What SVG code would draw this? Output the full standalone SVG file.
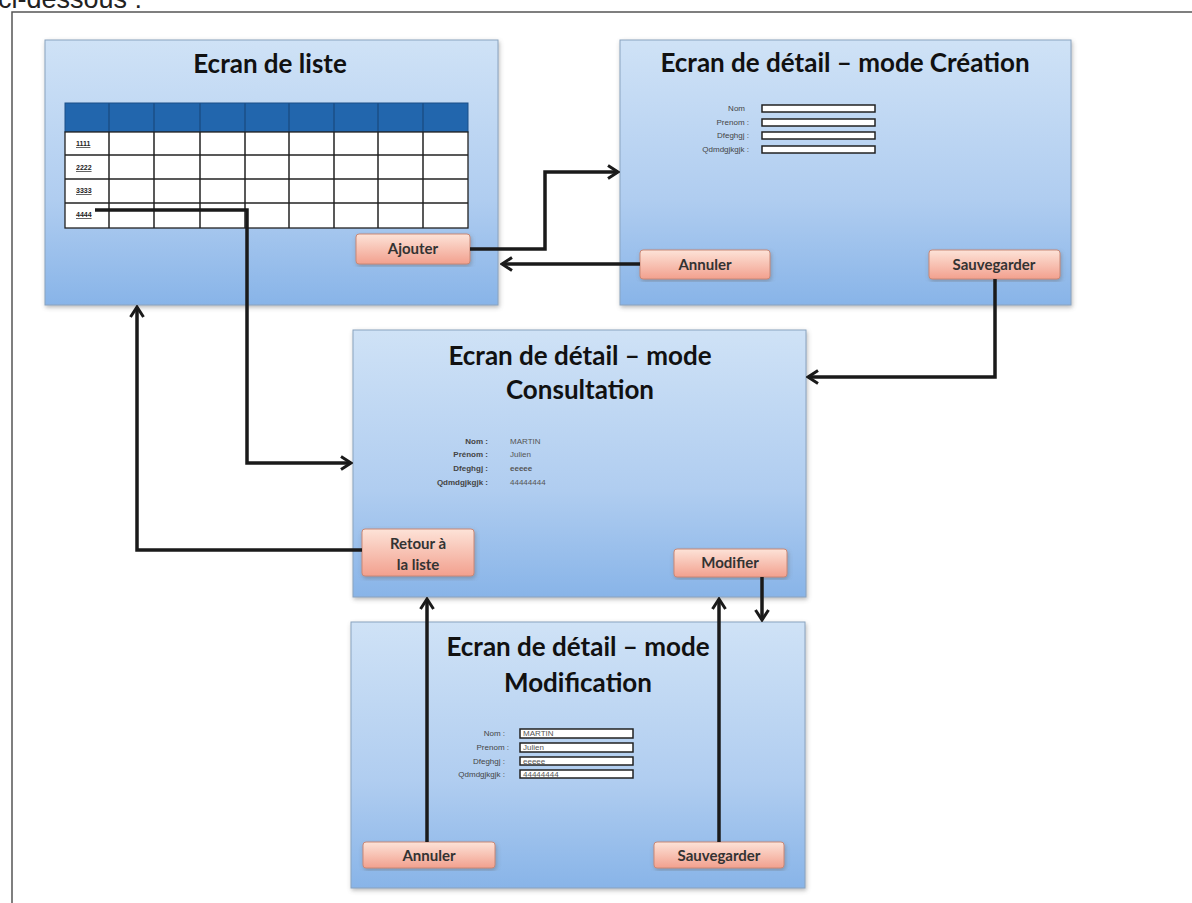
<svg xmlns="http://www.w3.org/2000/svg" width="1192" height="903" viewBox="0 0 1192 903">
  <defs>
    <linearGradient id="screenFill" x1="0" y1="0" x2="0" y2="1">
      <stop offset="0" stop-color="#cfe2f6"/>
      <stop offset="0.6" stop-color="#b0cdf0"/>
      <stop offset="1" stop-color="#88b4e8"/>
    </linearGradient>
    <linearGradient id="btnFill" x1="0" y1="0" x2="0" y2="1">
      <stop offset="0" stop-color="#fde3d8"/>
      <stop offset="1" stop-color="#f2a08e"/>
    </linearGradient>
    <filter id="shadow" x="-5%" y="-5%" width="110%" height="115%">
      <feDropShadow dx="1" dy="2" stdDeviation="2" flood-color="#666" flood-opacity="0.45"/>
    </filter>
    <marker id="chev" viewBox="0 0 16 16" refX="14" refY="8" markerWidth="16" markerHeight="16" markerUnits="userSpaceOnUse" orient="auto">
      <path d="M4,1.5 L14,8 L4,14.5" fill="none" stroke="#1a1a1a" stroke-width="3"/>
    </marker>
    <style>
      .screen { fill: url(#screenFill); stroke: #8aa3bf; stroke-width: 1; filter: url(#shadow); }
      .title { font-family: Lato, "Open Sans", sans-serif; font-weight: 700; font-size: 26px; fill: #111; text-anchor: middle; }
      .btn { fill: url(#btnFill); stroke: #c98876; stroke-width: 1; filter: url(#shadow); }
      .btnText { font-family: Lato, "Open Sans", sans-serif; font-weight: 700; font-size: 15px; fill: #333; text-anchor: middle; }
      .lbl { font-family: "Liberation Sans", Arial, sans-serif; font-size: 8px; fill: #444; text-anchor: end; }
      .lblB { font-family: "Liberation Sans", Arial, sans-serif; font-size: 8px; font-weight: 700; fill: #444; text-anchor: end; }
      .val { font-family: "Liberation Sans", Arial, sans-serif; font-size: 8px; fill: #555; }
      .field { fill: #fff; stroke: #222; stroke-width: 1.5; }
      .cell { fill: #fff; stroke: #222; stroke-width: 1.3; }
      .rowId { font-family: "Liberation Sans", Arial, sans-serif; font-size: 7px; font-weight: 700; fill: #222; text-decoration: underline; }
      .conn { fill: none; stroke: #1a1a1a; stroke-width: 3.5; }
      .frame { fill: none; stroke: #555; stroke-width: 1.5; }
    </style>
  </defs>

  <rect x="0" y="0" width="1192" height="903" fill="#fff"/>

  <!-- heading text running off the top of the page -->
  <text x="-2" y="8" font-family="'Liberation Sans', Arial, sans-serif" font-size="27" fill="#222">ci-dessous :</text>

  <!-- page frame -->
  <path class="frame" d="M12,903 L12,12 L1192,12"/>

  <!-- list screen -->
  <g id="list-screen">
    <rect class="screen" x="45" y="40" width="453" height="265"/>
    <text class="title" x="270" y="73">Ecran de liste</text>
    <rect x="65" y="103" width="403" height="29" fill="#2266ad" stroke="#1b4f87" stroke-width="1"/>
    <g stroke="#1b4f87" stroke-width="1.5">
      <line x1="109" y1="103" x2="109" y2="132"/><line x1="154" y1="103" x2="154" y2="132"/>
      <line x1="200" y1="103" x2="200" y2="132"/><line x1="245" y1="103" x2="245" y2="132"/>
      <line x1="289" y1="103" x2="289" y2="132"/><line x1="334" y1="103" x2="334" y2="132"/>
      <line x1="378" y1="103" x2="378" y2="132"/><line x1="423" y1="103" x2="423" y2="132"/>
    </g>
    <rect class="cell" x="65" y="132" width="403" height="96"/>
    <g stroke="#222" stroke-width="1.5">
      <line x1="65" y1="155" x2="468" y2="155"/>
      <line x1="65" y1="179" x2="468" y2="179"/>
      <line x1="65" y1="203" x2="468" y2="203"/>
      <line x1="109" y1="132" x2="109" y2="228"/><line x1="154" y1="132" x2="154" y2="228"/>
      <line x1="200" y1="132" x2="200" y2="228"/><line x1="245" y1="132" x2="245" y2="228"/>
      <line x1="289" y1="132" x2="289" y2="228"/><line x1="334" y1="132" x2="334" y2="228"/>
      <line x1="378" y1="132" x2="378" y2="228"/><line x1="423" y1="132" x2="423" y2="228"/>
    </g>
    <text class="rowId" x="76" y="146">1111</text>
    <text class="rowId" x="76" y="170">2222</text>
    <text class="rowId" x="76" y="193">3333</text>
    <text class="rowId" x="76" y="217">4444</text>
    <rect class="btn" x="356" y="234" width="114" height="30" rx="3"/>
    <text class="btnText" x="413" y="254">Ajouter</text>
  </g>

  <!-- creation screen -->
  <g id="creation-screen">
    <rect class="screen" x="620" y="40" width="451" height="265"/>
    <text class="title" x="845" y="72">Ecran de détail – mode Création</text>
    <text class="lbl" x="745" y="111">Nom</text>
    <text class="lbl" x="749" y="125">Prenom :</text>
    <text class="lbl" x="749" y="138">Dfeghgj :</text>
    <text class="lbl" x="749" y="152">Qdmdgjkgjk :</text>
    <rect class="field" x="762" y="105" width="113" height="7"/>
    <rect class="field" x="762" y="119" width="113" height="7"/>
    <rect class="field" x="762" y="132" width="113" height="7"/>
    <rect class="field" x="762" y="146" width="113" height="7"/>
    <rect class="btn" x="640" y="250" width="130" height="29" rx="3"/>
    <text class="btnText" x="705" y="270">Annuler</text>
    <rect class="btn" x="929" y="250" width="131" height="29" rx="3"/>
    <text class="btnText" x="994" y="270">Sauvegarder</text>
  </g>

  <!-- consultation screen -->
  <g id="consultation-screen">
    <rect class="screen" x="353" y="330" width="453" height="267"/>
    <text class="title" x="580" y="365">Ecran de détail – mode</text>
    <text class="title" x="580" y="399">Consultation</text>
    <text class="lblB" x="488" y="444">Nom :</text>
    <text class="lblB" x="488" y="457">Prénom :</text>
    <text class="lblB" x="488" y="471">Dfeghgj :</text>
    <text class="lblB" x="488" y="485">Qdmdgjkgjk :</text>
    <text class="val" x="510" y="444">MARTIN</text>
    <text class="val" x="510" y="457">Julien</text>
    <text class="val" x="510" y="471" font-weight="700">eeeee</text>
    <text class="val" x="510" y="485">44444444</text>
    <rect class="btn" x="362" y="529" width="112" height="47" rx="3"/>
    <text class="btnText" x="418" y="549">Retour à</text>
    <text class="btnText" x="418" y="570">la liste</text>
    <rect class="btn" x="674" y="549" width="113" height="28" rx="3"/>
    <text class="btnText" x="730" y="568">Modifier</text>
  </g>

  <!-- modification screen -->
  <g id="modification-screen">
    <rect class="screen" x="351" y="622" width="454" height="266"/>
    <text class="title" x="578" y="656">Ecran de détail – mode</text>
    <text class="title" x="578" y="692">Modification</text>
    <text class="lbl" x="505" y="736">Nom :</text>
    <text class="lbl" x="509" y="750">Prenom :</text>
    <text class="lbl" x="505" y="764">Dfeghgj :</text>
    <text class="lbl" x="505" y="777">Qdmdgjkgjk :</text>
    <rect class="field" x="520" y="729" width="113" height="9"/>
    <rect class="field" x="520" y="743" width="113" height="9"/>
    <rect class="field" x="520" y="757" width="113" height="8"/>
    <rect class="field" x="520" y="770" width="113" height="8"/>
    <text class="val" x="523" y="736" fill="#333">MARTIN</text>
    <text class="val" x="523" y="750" fill="#333">Julien</text>
    <text class="val" x="523" y="764" fill="#333">eeeee</text>
    <text class="val" x="523" y="777" fill="#333">44444444</text>
    <rect class="btn" x="363" y="842" width="132" height="26" rx="3"/>
    <text class="btnText" x="429" y="861">Annuler</text>
    <rect class="btn" x="654" y="842" width="130" height="26" rx="3"/>
    <text class="btnText" x="719" y="861">Sauvegarder</text>
  </g>

  <!-- navigation links between screens -->
  <g id="connectors">
    <path class="conn" marker-end="url(#chev)" d="M470,249 L545,249 L545,172 L618,172"/>
    <path class="conn" marker-end="url(#chev)" d="M640,264 L502,264"/>
    <path class="conn" marker-end="url(#chev)" d="M995,279 L995,377 L808,377"/>
    <path class="conn" marker-end="url(#chev)" d="M95,210 L247,210 L247,463 L351,463"/>
    <path class="conn" marker-end="url(#chev)" d="M362,550 L137,550 L137,307"/>
    <path class="conn" marker-end="url(#chev)" d="M427,842 L427,599"/>
    <path class="conn" marker-end="url(#chev)" d="M719,842 L719,599"/>
    <path class="conn" marker-end="url(#chev)" d="M762,577 L762,620"/>
  </g>
</svg>
